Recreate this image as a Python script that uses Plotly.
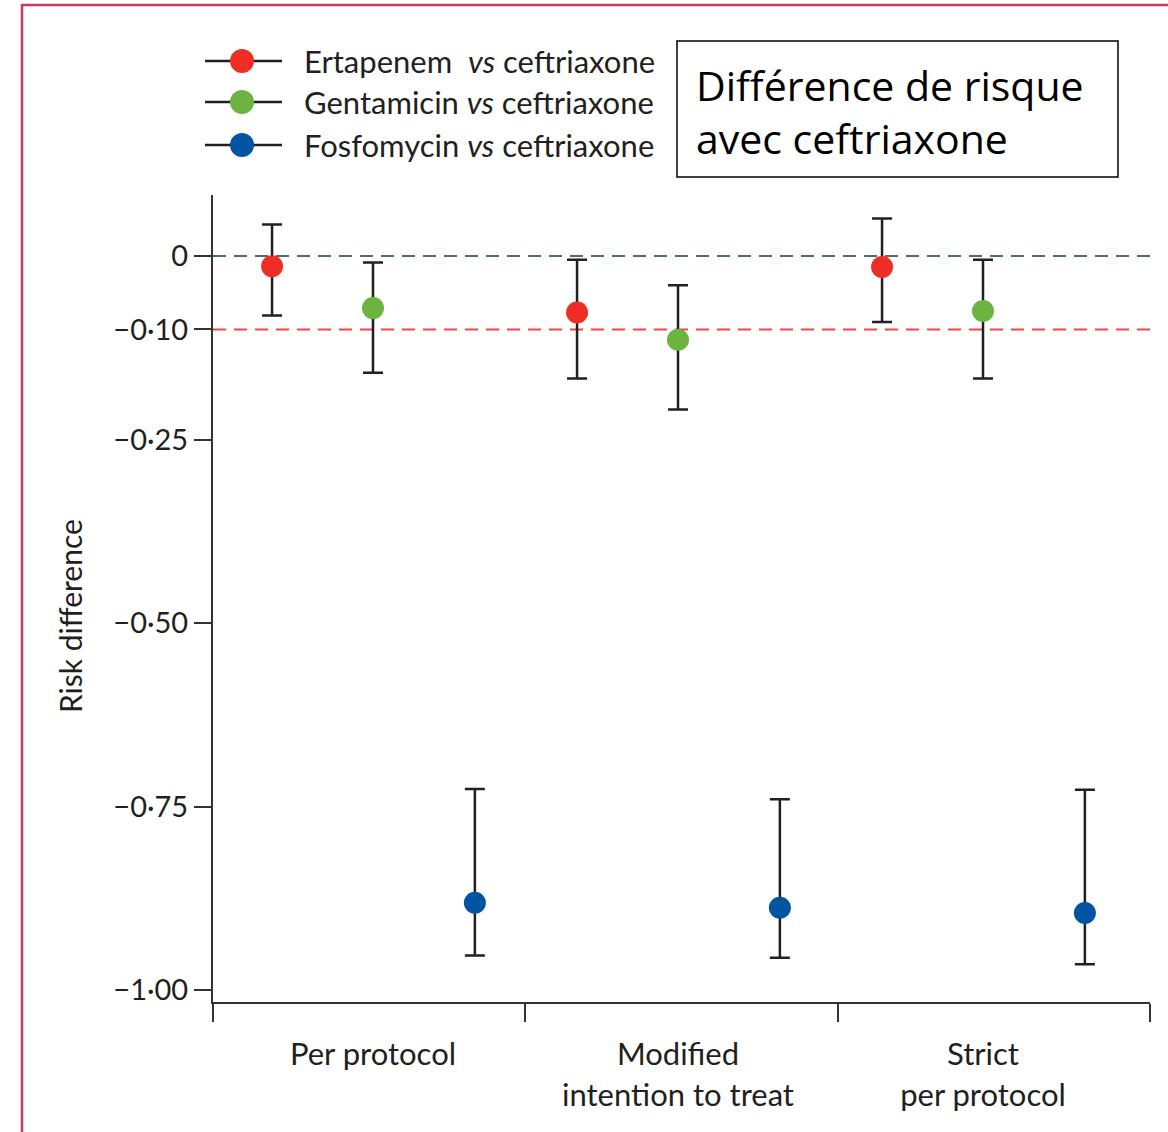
import plotly.graph_objects as go
import numpy as np

# ---------------- data ----------------
categories = ["Per protocol", "Modified<br>intention to treat", "Strict<br>per protocol"]
series_names = ["Ertapenem", "Gentamicin", "Fosfomycin"]
legend_labels = ["Ertapenem&nbsp;&nbsp;<i>vs</i> ceftriaxone",
                 "Gentamicin <i>vs</i> ceftriaxone",
                 "Fosfomycin <i>vs</i> ceftriaxone"]

ertapenem_rd = [-0.014, -0.077, -0.015]
ertapenem_lo = [-0.081, -0.167, -0.090]
ertapenem_hi = [0.043, -0.005, 0.051]

gentamicin_rd = [-0.071, -0.114, -0.075]
gentamicin_lo = [-0.159, -0.209, -0.167]
gentamicin_hi = [-0.009, -0.040, -0.005]

fosfomycin_rd = [-0.881, -0.888, -0.895]
fosfomycin_lo = [-0.953, -0.956, -0.965]
fosfomycin_hi = [-0.726, -0.740, -0.727]

ytick_vals = [0, -0.10, -0.25, -0.50, -0.75, -1.00]
ytick_text = ["0", "\u22120\u00b710", "\u22120\u00b725", "\u22120\u00b750", "\u22120\u00b775", "\u22121\u00b700"]

noninferiority_margin = -0.10

# ---------------- style ----------------
colors = ["#EE2E24", "#6DB33F", "#0054A2"]
offsets = [-0.331, 0.0, 0.334]
ink = "#231F20"
font_family = "Lato, 'Open Sans', sans-serif"

W, H = 1168, 1132
L, R, T, B = 213, 1150, 195, 1002


def px(xp):
    return (xp - L) / (R - L)


def py(yp):
    return (B - yp) / (B - T)


xrange_ = [-0.5246, 2.5475]
yrange_ = [-1.0163, 0.0831]

fig = go.Figure()

series = [
    (ertapenem_rd, ertapenem_lo, ertapenem_hi),
    (gentamicin_rd, gentamicin_lo, gentamicin_hi),
    (fosfomycin_rd, fosfomycin_lo, fosfomycin_hi),
]

group_pos = np.arange(len(categories))
for i, (rd, lo, hi) in enumerate(series):
    rd = np.array(rd)
    lo = np.array(lo)
    hi = np.array(hi)
    fig.add_trace(go.Scatter(
        x=group_pos + offsets[i],
        y=rd,
        mode="markers",
        name=series_names[i],
        showlegend=False,
        marker=dict(size=22, color=colors[i], line=dict(width=0)),
        error_y=dict(type="data", symmetric=False,
                     array=hi - rd, arrayminus=rd - lo,
                     color=ink, thickness=2.5, width=10),
    ))

shapes = []
# reference dashed lines
shapes.append(dict(type="line", xref="paper", yref="y", x0=0, x1=1, y0=0, y1=0,
                   line=dict(color="#4E6A78", width=2, dash="13px,8px"), layer="below"))
shapes.append(dict(type="line", xref="paper", yref="y", x0=0, x1=1,
                   y0=noninferiority_margin, y1=noninferiority_margin,
                   line=dict(color="#F04848", width=2, dash="13px,8px"), layer="below"))

# outer crimson frame
shapes.append(dict(type="rect", xref="paper", yref="paper",
                   x0=px(22), x1=px(1190), y0=py(5), y1=py(1160),
                   line=dict(color="#C8385A", width=2.5), fillcolor="rgba(0,0,0,0)"))

# text box
shapes.append(dict(type="rect", xref="paper", yref="paper",
                   x0=px(677), x1=px(1118), y0=py(177), y1=py(41),
                   line=dict(color="#000000", width=1.5), fillcolor="white"))

annotations = []
# manual legend
legend_y = [61, 102, 145]
for i in range(3):
    shapes.append(dict(type="line", xref="paper", yref="paper",
                       x0=px(205), x1=px(282), y0=py(legend_y[i]), y1=py(legend_y[i]),
                       line=dict(color=ink, width=2.5)))
    shapes.append(dict(type="circle", xref="paper", yref="paper",
                       xsizemode="pixel", ysizemode="pixel",
                       xanchor=px(242), yanchor=py(legend_y[i]),
                       x0=-12, x1=12, y0=-12, y1=12,
                       line=dict(width=0), fillcolor=colors[i]))
    annotations.append(dict(xref="paper", yref="paper", x=px(302), y=py(legend_y[i]),
                            text=legend_labels[i], showarrow=False,
                            xanchor="left", yanchor="middle",
                            font=dict(family=font_family, size=31, color=ink)))

annotations.append(dict(xref="paper", yref="paper", x=px(694), y=py(111),
                        text="Différence de risque<br>avec ceftriaxone", showarrow=False,
                        xanchor="left", yanchor="middle", align="left",
                        font=dict(family="'Open Sans', 'Noto Sans', sans-serif", size=41, color="#000000")))

annotations.append(dict(xref="paper", yref="paper", x=px(70), y=py(616),
                        text="Risk difference", showarrow=False, textangle=-90,
                        xanchor="center", yanchor="middle",
                        font=dict(family=font_family, size=30, color=ink)))

fig.update_layout(
    width=W, height=H,
    margin=dict(l=L, r=W - R, t=T, b=H - B),
    paper_bgcolor="white", plot_bgcolor="white",
    shapes=shapes, annotations=annotations,
    showlegend=False,
    font=dict(family=font_family, color=ink),
)

fig.update_xaxes(
    range=xrange_, showgrid=False, zeroline=False,
    showline=True, linecolor="#333333", linewidth=2,
    tickvals=list(group_pos), ticktext=categories, ticks="",
    tickfont=dict(family=font_family, size=31, color=ink),
    ticklabelstandoff=24,
    minor=dict(tickmode="array", tickvals=list(np.linspace(xrange_[0], xrange_[1], 4)),
               ticks="outside", ticklen=18, tickwidth=2, tickcolor="#333333", showgrid=False),
)

fig.update_yaxes(
    range=yrange_, showgrid=False, zeroline=False,
    showline=True, linecolor="#333333", linewidth=2,
    tickvals=ytick_vals, ticktext=ytick_text,
    ticks="outside", ticklen=17, tickwidth=2, tickcolor="#333333",
    tickfont=dict(family=font_family, size=29, color=ink),
)

fig.write_html("out.html")
